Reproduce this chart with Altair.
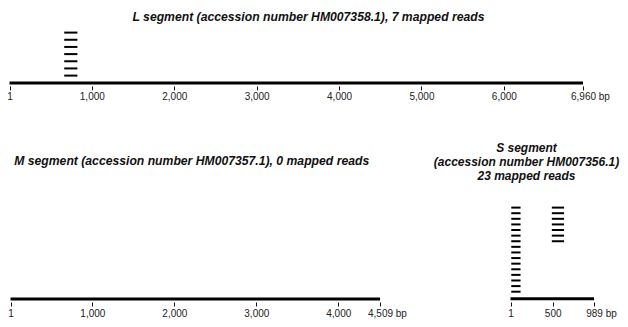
import altair as alt
import pandas as pd

# ---- data -------------------------------------------------------------
segment_lengths = {"L": 6960, "M": 4509, "S": 989}

L_ticks = [1, 1000, 2000, 3000, 4000, 5000, 6000, 6960]
M_ticks = [1, 1000, 2000, 3000, 4000, 4509]
S_ticks = [1, 500, 989]

L_read_start = [665, 665, 665, 665, 665, 665, 665]
L_read_end = [825, 825, 825, 825, 825, 825, 825]
L_read_row = [1, 2, 3, 4, 5, 6, 7]

S_read_start = [10, 10, 10, 10, 10, 10, 10, 10, 10, 10, 10, 10, 10, 10, 10, 10,
                490, 490, 490, 490, 490, 490, 490]
S_read_end = [120, 120, 120, 120, 120, 120, 120, 120, 120, 120, 120, 120, 120, 120, 120, 120,
              635, 635, 635, 635, 635, 635, 635]
S_read_row = [1, 2, 3, 4, 5, 6, 7, 8, 9, 10, 11, 12, 13, 14, 15, 16,
              1, 2, 3, 4, 5, 6, 7]

L_title = "L segment (accession number HM007358.1), 7 mapped reads"
M_title = "M segment (accession number HM007357.1), 0 mapped reads"
S_title = ["S segment", "(accession number HM007356.1)", "23 mapped reads"]

FONT = "Liberation Sans"
W, H = 612, 311


def xscale(length, x_range):
    return alt.Scale(domain=[1, length], range=x_range, nice=False, zero=False)


def seg_line(length, ticks, x_range, line_y, axis_offset, end_shift):
    test = f"datum.value == {length}"
    axis = alt.Axis(
        values=ticks, orient="bottom", offset=axis_offset,
        domain=False, grid=False, ticks=True, tickSize=4, tickWidth=1,
        tickColor="#111", labelFont=FONT, labelFontSize=10, labelColor="#222",
        labelPadding=10, labelBaseline="alphabetic", labelFlush=False,
        labelOverlap=False, title=None,
        labelExpr=f"{test} ? format(datum.value, ',') + ' bp' : format(datum.value, ',')",
        labelAlign={"condition": {"test": test, "value": "left"}, "value": "center"},
        labelOffset={"condition": {"test": test, "value": end_shift}, "value": 0},
    )
    line_df = pd.DataFrame({"start": [1], "end": [length]})
    return alt.Chart(line_df).mark_rule(strokeWidth=3, color="black", strokeCap="butt").encode(
        x=alt.X("start:Q", scale=xscale(length, x_range), axis=axis),
        x2="end:Q",
        y=alt.value(line_y),
    )


def seg_reads(df, length, x_range, y_range):
    n = int(df["row"].max())
    return alt.Chart(df).mark_rule(strokeWidth=2, color="black", strokeCap="butt").encode(
        x=alt.X("start:Q", scale=xscale(length, x_range), axis=None),
        x2="end:Q",
        y=alt.Y("row:Q", scale=alt.Scale(domain=[1, n], range=y_range, nice=False, zero=False),
                axis=None),
    )


L_reads = pd.DataFrame({"start": L_read_start, "end": L_read_end, "row": L_read_row})
S_reads = pd.DataFrame({"start": S_read_start, "end": S_read_end, "row": S_read_row})

L_rng = [1.5, 575]
M_rng = [2.5, 372]
S_rng = [502.5, 586]

L_line = seg_line(segment_lengths["L"], L_ticks, L_rng, 75.1, -233.1, -12.5)
L_r = seg_reads(L_reads, segment_lengths["L"], L_rng, [24.6, 67.6])
M_line = seg_line(segment_lengths["M"], M_ticks, M_rng, 290.9, -17, -12.5)
S_line = seg_line(segment_lengths["S"], S_ticks, S_rng, 290.7, -17, -8.3)
S_r = seg_reads(S_reads, segment_lengths["S"], S_rng, [199.6, 283.7])

title_style = dict(font=FONT, fontStyle="italic", fontWeight="bold",
                   color="#111", align="center", baseline="alphabetic")

L_text = alt.Chart(pd.DataFrame({"t": [L_title]})).mark_text(fontSize=12.2, **title_style).encode(
    x=alt.value(300.5), y=alt.value(12.5), text="t:N")
M_text = alt.Chart(pd.DataFrame({"t": [M_title]})).mark_text(fontSize=12.2, **title_style).encode(
    x=alt.value(183.7), y=alt.value(156.9), text="t:N")
S_text = alt.Chart(pd.DataFrame({"t": ["\n".join(S_title)]})).mark_text(
    fontSize=12, lineBreak="\n", lineHeight=14.2, **title_style).encode(
    x=alt.value(518.5), y=alt.value(143.9), text="t:N")

chart = alt.layer(L_line, L_r, M_line, S_line, S_r, L_text, M_text, S_text).resolve_scale(
    x="independent", y="independent"
).resolve_axis(x="independent", y="independent").properties(
    width=W, height=H, padding=0, autosize=alt.AutoSizeParams(type="none")
).configure_view(stroke=None)

chart.save("out.html", embed_options={"renderer": "svg", "actions": False})
